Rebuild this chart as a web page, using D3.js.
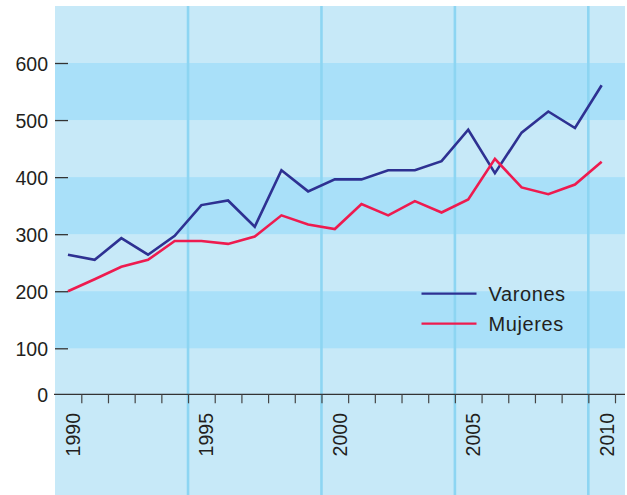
<!DOCTYPE html>
<html><head><meta charset="utf-8">
<script src="https://cdn.jsdelivr.net/npm/d3@7"></script>
<style>html,body{margin:0;padding:0;background:#fff;}svg{display:block;}</style>
</head><body>
<svg id="c" width="627" height="495"></svg>
<script>
const years = d3.range(1990, 2011);
const varones = [264,255,293,264,297,351,359,313,412,375,396,396,412,412,428,483,407,478,515,486,561];
const mujeres = [200,221,243,255,288,288,283,296,333,317,309,353,333,358,338,361,432,382,370,387,427];
const yTicks = [0,100,200,300,400,500,600];
const xTickYears = d3.range(1990, 2011);
const xLabelYears = [1990,1995,2000,2005,2010];
const dividerYears = [1994,1999,2004,2009];
const bandsDark = [[100,200],[300,400],[500,600]];
const seriesNames = ["Varones","Mujeres"];
const colors = ["#2e3192","#ee1b4f"];

(function(){
const svg = d3.select("#c");
const W = 627, H = 495;
const pL = 55, pR = 625, pT = 6;

// y: axis baseline labelled 0 sits just below 100 (broken axis)
const y = d3.scaleLinear().domain([0,100,600]).range([394.3,348.3,63]);
// x: tick positions for years; data points sit half a year before each tick
const x = d3.scaleLinear().domain([1990,2010]).range([81.3,615]);
const xp = d => x(d - 0.5);

// background
svg.append("rect").attr("x",pL).attr("y",pT).attr("width",pR-pL).attr("height",H-pT).attr("fill","#c7e9f8");
svg.selectAll("rect.band").data(bandsDark).join("rect").attr("class","band")
  .attr("x",pL).attr("width",pR-pL)
  .attr("y",d=>y(d[1])).attr("height",d=>y(d[0])-y(d[1]))
  .attr("fill","#a9e0f9");

// dividers
svg.selectAll("line.div").data(dividerYears).join("line").attr("class","div")
  .attr("x1",d=>x(d)).attr("x2",d=>x(d)).attr("y1",pT).attr("y2",H)
  .attr("stroke","#8dd5f2").attr("stroke-width",2.6);

// y axis ticks and labels
const yAxis = d3.axisLeft(y).tickValues(yTicks).tickSize(-13).tickPadding(0).tickFormat(d3.format("d"));
const ga = svg.append("g").attr("transform",`translate(${pL},0)`).call(yAxis);
ga.select(".domain").remove();
ga.selectAll(".tick line").attr("stroke","#333").attr("stroke-width",1.3);
ga.selectAll(".tick").filter(d=>d===0).select("line").remove();
ga.selectAll(".tick text").attr("x",-7).attr("dy","0.36em")
  .attr("font-family","Liberation Sans, Arial, sans-serif").attr("font-size",19.5).attr("fill","#231f20");

// x axis
const xAxis = d3.axisBottom(x).tickValues(xTickYears).tickSize(9).tickFormat("");
const gx = svg.append("g").attr("transform",`translate(0,${y(0)})`).call(xAxis);
gx.select(".domain").attr("d",`M${pL-1},0H${pR}`).attr("stroke","#333").attr("stroke-width",1.3);
gx.selectAll(".tick line").attr("stroke","#444").attr("stroke-width",1.2);
svg.selectAll("text.xl").data(xLabelYears).join("text").attr("class","xl")
  .attr("transform",d=>`translate(${x(d)-1.5},${413}) rotate(-90)`)
  .attr("text-anchor","end")
  .attr("font-family","Liberation Sans, Arial, sans-serif").attr("font-size",19.5).attr("fill","#231f20")
  .text(d=>d);

// lines
const line = d3.line().x((d,i)=>xp(years[i])).y(d=>y(d));
[varones, mujeres].forEach((s,k)=>{
  svg.append("path").attr("d",line(s)).attr("fill","none")
    .attr("stroke",colors[k]).attr("stroke-width",2.6).attr("stroke-linejoin","miter");
});

// legend
const lg = svg.append("g");
seriesNames.forEach((n,k)=>{
  const ly = 293.7 + k*30;
  lg.append("line").attr("x1",421.5).attr("x2",476.5).attr("y1",ly).attr("y2",ly)
    .attr("stroke",colors[k]).attr("stroke-width",2.2);
  lg.append("text").attr("x",488.5).attr("y",ly).attr("dy","0.36em")
    .attr("font-family","Liberation Sans, Arial, sans-serif").attr("font-size",20).attr("letter-spacing",0.6)
    .attr("fill","#231f20").text(n);
});
})();
</script>
</body></html>
